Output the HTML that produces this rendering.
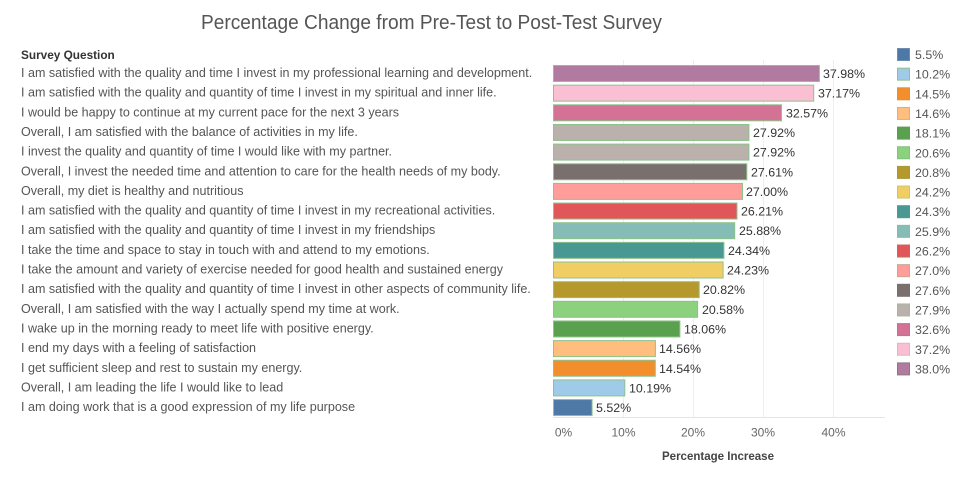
<!DOCTYPE html>
<html><head><meta charset="utf-8"><style>
html,body{margin:0;padding:0;background:#fff;}
svg{display:block;}
text{font-family:"Liberation Sans",Arial,sans-serif;}
</style></head><body>
<svg width="974" height="504" viewBox="0 0 974 504" xmlns="http://www.w3.org/2000/svg">
<rect width="974" height="504" fill="#fff"/>
<text x="201" y="29" font-size="20" fill="#555" textLength="461" lengthAdjust="spacingAndGlyphs">Percentage Change from Pre-Test to Post-Test Survey</text>
<text x="21" y="59" font-size="11.8" font-weight="bold" fill="#333">Survey Question</text>
<!-- gridlines -->
<g stroke="#eeeeee" stroke-width="1">
<line x1="623.5" y1="60" x2="623.5" y2="417"/>
<line x1="693.5" y1="60" x2="693.5" y2="417"/>
<line x1="763.5" y1="60" x2="763.5" y2="417"/>
<line x1="833.5" y1="60" x2="833.5" y2="417"/>
</g>
<line x1="553" y1="417.5" x2="885" y2="417.5" stroke="#e4e4e4" stroke-width="1"/>
<!-- labels -->
<g font-size="12.55" fill="#555">
<text x="21" y="77">I am satisfied with the quality and time I invest in my professional learning and development.</text>
<text x="21" y="96.65">I am satisfied with the quality and quantity of time I invest in my spiritual and inner life.</text>
<text x="21" y="116.3">I would be happy to continue at my current pace for the next 3 years</text>
<text x="21" y="135.95">Overall, I am satisfied with the balance of activities in my life.</text>
<text x="21" y="155.6">I invest the quality and quantity of time I would like with my partner.</text>
<text x="21" y="175.25">Overall, I invest the needed time and attention to care for the health needs of my body.</text>
<text x="21" y="194.9">Overall, my diet is healthy and nutritious</text>
<text x="21" y="214.55">I am satisfied with the quality and quantity of time I invest in my recreational activities.</text>
<text x="21" y="234.2">I am satisfied with the quality and quantity of time I invest in my friendships</text>
<text x="21" y="253.85">I take the time and space to stay in touch with and attend to my emotions.</text>
<text x="21" y="273.5">I take the amount and variety of exercise needed for good health and sustained energy</text>
<text x="21" y="293.15">I am satisfied with the quality and quantity of time I invest in other aspects of community life.</text>
<text x="21" y="312.8">Overall, I am satisfied with the way I actually spend my time at work.</text>
<text x="21" y="332.45">I wake up in the morning ready to meet life with positive energy.</text>
<text x="21" y="352.1">I end my days with a feeling of satisfaction</text>
<text x="21" y="371.75">I get sufficient sleep and rest to sustain my energy.</text>
<text x="21" y="391.4">Overall, I am leading the life I would like to lead</text>
<text x="21" y="411.05">I am doing work that is a good expression of my life purpose</text>
</g>
<!-- bars -->
<g stroke="#8dc28a" stroke-width="1">
<rect x="553.5" y="65.5" width="265.9" height="16" fill="#b07aa1"/>
<rect x="553.5" y="85.15" width="260.2" height="16" fill="#fabfd2"/>
<rect x="553.5" y="104.8" width="228" height="16" fill="#d37295"/>
<rect x="553.5" y="124.45" width="195.4" height="16" fill="#bab0ac"/>
<rect x="553.5" y="144.1" width="195.4" height="16" fill="#bab0ac"/>
<rect x="553.5" y="163.75" width="193.3" height="16" fill="#79706e"/>
<rect x="553.5" y="183.4" width="189" height="16" fill="#ff9d9a"/>
<rect x="553.5" y="203.05" width="183.5" height="16" fill="#e15759"/>
<rect x="553.5" y="222.7" width="181.2" height="16" fill="#86bcb6"/>
<rect x="553.5" y="242.35" width="170.4" height="16" fill="#499894"/>
<rect x="553.5" y="262" width="169.6" height="16" fill="#f1ce63"/>
<rect x="553.5" y="281.65" width="145.7" height="16" fill="#b6992d"/>
<rect x="553.5" y="301.3" width="144.1" height="16" fill="#8cd17d"/>
<rect x="553.5" y="320.95" width="126.4" height="16" fill="#59a14f"/>
<rect x="553.5" y="340.6" width="101.9" height="16" fill="#ffbe7d"/>
<rect x="553.5" y="360.25" width="101.8" height="16" fill="#f28e2b"/>
<rect x="553.5" y="379.9" width="71.3" height="16" fill="#a0cbe8"/>
<rect x="553.5" y="399.55" width="38.6" height="16" fill="#4e79a7"/>
</g>
<!-- value labels -->
<g font-size="12.4" fill="#333">
<text x="823" y="78">37.98%</text>
<text x="818" y="97.65">37.17%</text>
<text x="786" y="117.3">32.57%</text>
<text x="753" y="136.95">27.92%</text>
<text x="753" y="156.6">27.92%</text>
<text x="751" y="176.25">27.61%</text>
<text x="746" y="195.9">27.00%</text>
<text x="741" y="215.55">26.21%</text>
<text x="739" y="235.2">25.88%</text>
<text x="728" y="254.85">24.34%</text>
<text x="727" y="274.5">24.23%</text>
<text x="703" y="294.15">20.82%</text>
<text x="702" y="313.8">20.58%</text>
<text x="684" y="333.45">18.06%</text>
<text x="659" y="353.1">14.56%</text>
<text x="659" y="372.75">14.54%</text>
<text x="629" y="392.4">10.19%</text>
<text x="596" y="412.05">5.52%</text>
</g>
<!-- axis ticks -->
<g font-size="12" fill="#666" text-anchor="middle">
<text x="563.5" y="436.5">0%</text>
<text x="623.5" y="436.5">10%</text>
<text x="693" y="436.5">20%</text>
<text x="763" y="436.5">30%</text>
<text x="833.5" y="436.5">40%</text>
</g>
<text x="662" y="460" font-size="12" font-weight="bold" fill="#444" textLength="112" lengthAdjust="spacingAndGlyphs">Percentage Increase</text>
<!-- legend -->
<g stroke-width="1">
<rect x="897.5" y="48.5" width="12" height="12" fill="#4e79a7" stroke="#6a8fb5"/>
<rect x="897.5" y="68.15" width="12" height="12" fill="#a0cbe8" stroke="#8dc28a"/>
<rect x="897.5" y="87.8" width="12" height="12" fill="#f28e2b" stroke="#d9923d"/>
<rect x="897.5" y="107.45" width="12" height="12" fill="#ffbe7d" stroke="#b9c07d"/>
<rect x="897.5" y="127.1" width="12" height="12" fill="#59a14f" stroke="#59a14f"/>
<rect x="897.5" y="146.75" width="12" height="12" fill="#8cd17d" stroke="#7fc27a"/>
<rect x="897.5" y="166.4" width="12" height="12" fill="#b6992d" stroke="#a6983e"/>
<rect x="897.5" y="186.05" width="12" height="12" fill="#f1ce63" stroke="#c8c86c"/>
<rect x="897.5" y="205.7" width="12" height="12" fill="#499894" stroke="#4e9a8e"/>
<rect x="897.5" y="225.35" width="12" height="12" fill="#86bcb6" stroke="#86bf9e"/>
<rect x="897.5" y="245" width="12" height="12" fill="#e15759" stroke="#b8705e"/>
<rect x="897.5" y="264.65" width="12" height="12" fill="#ff9d9a" stroke="#c8a88a"/>
<rect x="897.5" y="284.3" width="12" height="12" fill="#79706e" stroke="#79706e"/>
<rect x="897.5" y="303.95" width="12" height="12" fill="#bab0ac" stroke="#a6b89a"/>
<rect x="897.5" y="323.6" width="12" height="12" fill="#d37295" stroke="#b27a8a"/>
<rect x="897.5" y="343.25" width="12" height="12" fill="#fabfd2" stroke="#d0c0b0"/>
<rect x="897.5" y="362.9" width="12" height="12" fill="#b07aa1" stroke="#8a7a80"/>
</g>
<g font-size="12.4" fill="#555">
<text x="915" y="59">5.5%</text>
<text x="915" y="78.65">10.2%</text>
<text x="915" y="98.3">14.5%</text>
<text x="915" y="117.95">14.6%</text>
<text x="915" y="137.6">18.1%</text>
<text x="915" y="157.25">20.6%</text>
<text x="915" y="176.9">20.8%</text>
<text x="915" y="196.55">24.2%</text>
<text x="915" y="216.2">24.3%</text>
<text x="915" y="235.85">25.9%</text>
<text x="915" y="255.5">26.2%</text>
<text x="915" y="275.15">27.0%</text>
<text x="915" y="294.8">27.6%</text>
<text x="915" y="314.45">27.9%</text>
<text x="915" y="334.1">32.6%</text>
<text x="915" y="353.75">37.2%</text>
<text x="915" y="373.4">38.0%</text>
</g>
</svg>
</body></html>
